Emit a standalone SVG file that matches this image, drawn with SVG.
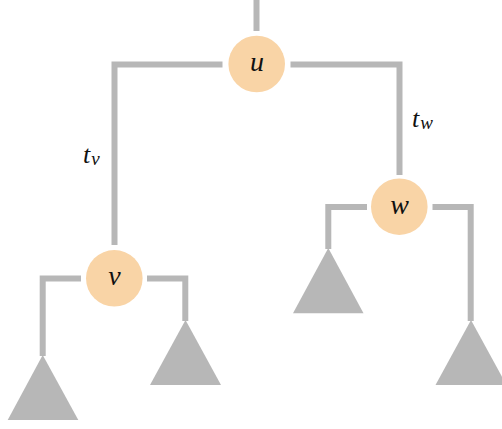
<svg xmlns="http://www.w3.org/2000/svg" width="502" height="429" viewBox="0 0 502 429">
<style>
.e{fill:none;stroke:#b7b7b7;stroke-width:6;stroke-linejoin:miter;stroke-linecap:butt}
.t{fill:#b7b7b7}
.n{fill:#f9d4a6}
.l{font-family:"Liberation Serif","DejaVu Serif",serif;font-style:italic;fill:#111}
.nl{font-size:28px;text-anchor:middle}
.el{font-size:26px}
.sub{font-size:19px}
</style>
<rect width="502" height="429" fill="#fff"/>
<g id="connectors">
<path class="e" d="M256.5,0 V31"/>
<path class="e" d="M222.5,64.5 H114.5 V245"/>
<path class="e" d="M290.5,64.5 H399.5 V175"/>
<path class="e" d="M81,278.5 H42.7 V356"/>
<path class="e" d="M147,278.5 H185.3 V321"/>
<path class="e" d="M367,207 H328.3 V249"/>
<path class="e" d="M432.5,207 H470.7 V321"/>
</g>
<g id="subtree1"><polygon class="t" points="42.7,355 78.3,420 7.7,420"/></g>
<g id="subtree2"><polygon class="t" points="185.5,320 221,385 150,385"/></g>
<g id="subtree3"><polygon class="t" points="328.3,248 363.5,313.3 293,313.3"/></g>
<g id="subtree4"><polygon class="t" points="471,320 506.5,385 435.5,385"/></g>
<g id="node-u"><circle class="n" cx="256.7" cy="64" r="28.3"/><text class="l nl" x="257" y="71">u</text></g>
<g id="node-v"><circle class="n" cx="114.3" cy="278.3" r="28.3"/><text class="l nl" x="114.5" y="285">v</text></g>
<g id="node-w"><circle class="n" cx="399.3" cy="206.7" r="28.3"/><text class="l nl" x="399.5" y="213.5">w</text></g>
<g id="label-tv"><text class="l el" x="83" y="163">t<tspan class="sub" dx="1" dy="2">v</tspan></text></g>
<g id="label-tw"><text class="l el" x="412" y="127">t<tspan class="sub" dx="1" dy="2">w</tspan></text></g>
</svg>
